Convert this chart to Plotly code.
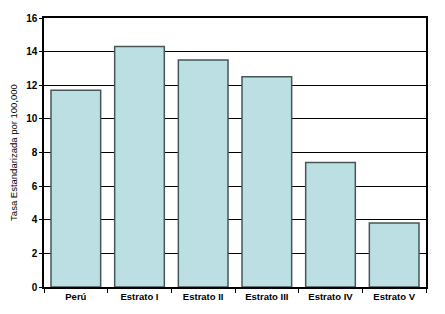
import plotly.graph_objects as go

categories = ["Perú", "Estrato I", "Estrato II", "Estrato III", "Estrato IV", "Estrato V"]
values = [11.7, 14.3, 13.5, 12.5, 7.4, 3.8]
y_ticks = [0, 2, 4, 6, 8, 10, 12, 14, 16]

fig = go.Figure(go.Bar(
    x=categories, y=values,
    marker=dict(color="#BBDFE3", line=dict(color="#475757", width=1.5)),
))

fig.update_layout(
    width=445, height=314,
    margin=dict(l=40, r=19, t=16, b=27),
    paper_bgcolor="white", plot_bgcolor="white",
    bargap=0.22,
    showlegend=False,
    font=dict(family="Liberation Sans, Arial, sans-serif", color="black"),
)
fig.update_xaxes(
    showline=True, linecolor="black", linewidth=1.5, mirror=True,
    ticks="outside", tickson="boundaries", ticklen=4, tickcolor="black",
    tickfont=dict(size=9.5, family="Liberation Sans, Arial, sans-serif", weight="bold"),
    showgrid=False,
)
fig.update_yaxes(
    range=[0, 16], tickvals=y_ticks,
    showline=True, linecolor="black", linewidth=1.5, mirror=True,
    ticks="outside", ticklen=3, tickcolor="black",
    showgrid=True, gridcolor="black", gridwidth=1.2,
    tickfont=dict(size=10, family="Liberation Sans, Arial, sans-serif", weight="bold"),
    title=dict(text="Tasa Estandarizada por 100,000", font=dict(size=9.5), standoff=7),
    zeroline=False,
)

fig.write_html("out.html")
